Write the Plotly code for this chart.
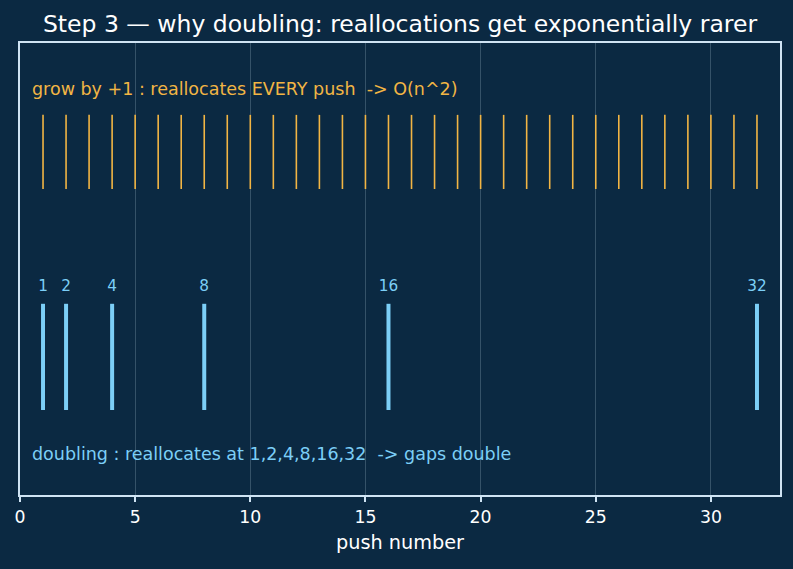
import plotly.graph_objects as go

pushes = list(range(1, 33))
doubling = [1, 2, 4, 8, 16, 32]
x_ticks = [0, 5, 10, 15, 20, 25, 30]

title = "Step 3 — why doubling: reallocations get exponentially rarer"
grow_label = "grow by +1 : reallocates EVERY push  -> O(n^2)"
dbl_label = "doubling : reallocates at 1,2,4,8,16,32  -> gaps double"

BG = "#0b2942"
ORANGE = "#f2b544"
BLUE = "#7ccff7"
EDGE = "#cfe3f3"
FONT = "DejaVu Sans"

# y extents (data units, range 0..1)
orange_lo, orange_hi = 0.677, 0.841
blue_lo, blue_hi = 0.188, 0.423

def seg(xs, lo, hi):
    X, Y = [], []
    for v in xs:
        X += [v, v, None]
        Y += [lo, hi, None]
    return X, Y

fig = go.Figure()
ox, oy = seg(pushes, orange_lo, orange_hi)
fig.add_trace(go.Scatter(x=ox, y=oy, mode="lines", line=dict(color=ORANGE, width=1.6),
                         hoverinfo="skip", showlegend=False))
bx, by = seg(doubling, blue_lo, blue_hi)
fig.add_trace(go.Scatter(x=bx, y=by, mode="lines", line=dict(color=BLUE, width=4),
                         hoverinfo="skip", showlegend=False))
fig.add_trace(go.Scatter(x=doubling, y=[0.46] * len(doubling), mode="text",
                         text=[str(v) for v in doubling],
                         textfont=dict(color=BLUE, size=15.3, family=FONT),
                         hoverinfo="skip", showlegend=False))

fig.add_annotation(x=0.45, y=0.898, xref="x", yref="y", text=grow_label, showarrow=False,
                   xanchor="left", yanchor="middle", font=dict(color=ORANGE, size=17.5, family=FONT))
fig.add_annotation(x=0.45, y=0.091, xref="x", yref="y", text=dbl_label, showarrow=False,
                   xanchor="left", yanchor="middle", font=dict(color=BLUE, size=17.5, family=FONT))

fig.update_layout(
    width=793, height=569,
    paper_bgcolor=BG, plot_bgcolor=BG,
    margin=dict(l=20, r=13, t=43, b=74),
    title=dict(text=title, x=0.5, xref="paper", xanchor="center", y=1 - 24 / 569, yanchor="middle",
               font=dict(color="white", size=23.5, family=FONT)),
    font=dict(family=FONT, color="white"),
    xaxis=dict(range=[0, 33], tickvals=x_ticks, ticks="outside", ticklen=5, tickwidth=1.5,
               tickcolor=EDGE, tickfont=dict(size=17.3, color="white"),
               showgrid=True, gridcolor="rgba(207,227,243,0.22)", gridwidth=1,
               showline=True, linecolor=EDGE, linewidth=1.5, mirror=True, zeroline=False,
               title=dict(text="push number", font=dict(size=19.3, color="white"), standoff=10)),
    yaxis=dict(range=[0, 1], showticklabels=False, ticks="", showgrid=False, zeroline=False,
               showline=True, linecolor=EDGE, linewidth=1.5, mirror=True),
)

fig.write_html("out.html")
